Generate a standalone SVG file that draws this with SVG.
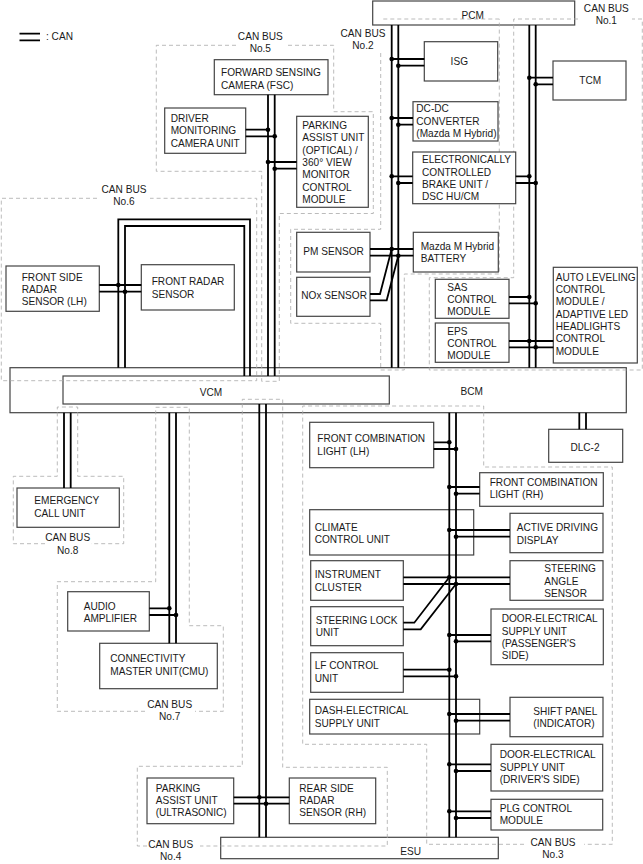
<svg xmlns="http://www.w3.org/2000/svg" width="643" height="864" viewBox="0 0 643 864">
<style>
text{font-family:"Liberation Sans",Arial,sans-serif;font-size:10.1px;fill:#1a1a1a;dominant-baseline:central}
.c{text-anchor:middle}
rect{fill:#fff;stroke:#444;stroke-width:1.2}
.r{fill:none;stroke:#aaa;stroke-width:.8;stroke-dasharray:4 3}
.w{fill:none;stroke:#000;stroke-width:1.8}
circle{fill:#000;stroke:none}
</style>
<rect width="643" height="864" style="fill:#fff;stroke:none"/>
<g id="legend"><path class="w" d="M19.5 33.7H40M19.5 40.3H40"/><text x="46" y="36">: CAN</text></g>
<g id="PCM"><rect x="372.7" y="1" width="202" height="24"/><text class="c" x="472.7" y="15">PCM</text></g>
<g id="BCM"><rect x="10" y="367.7" width="616.3" height="45"/><text class="c" x="471.7" y="391.3">BCM</text></g>
<g id="VCM"><rect x="63" y="376" width="326.3" height="28"/><text class="c" x="211" y="392.3">VCM</text></g>
<g id="ESU"><rect x="220.7" y="837.3" width="277.6" height="21.4"/><text class="c" x="410.7" y="851.7">ESU</text></g>
<g id="bus-regions">
<path class="r" d="M578 19H513.7V277.7H429.3V370H642.3V19H632"/>
<path class="r" d="M499.3 19H380.7M380.7 53V229.3H290.7V323.3H380.7V370H404.3V274H499.3V19"/>
<path class="r" d="M236 45.3H156.3V171.3H261.7V381.3H279.3V213.5H373.3V111.7H333.7V45.3H287"/>
<path class="r" d="M97 198.3H1.3V380.7H256.7V198.3H150"/>
<path class="r" d="M524 844.3H426.7V744.3H302.7V406H483.7V467H612.3V844.3H584"/>
<path class="r" d="M147 846H137.3V766.3H242.3V399.3H282.7V767.3H387.3V846H200"/>
<path class="r" d="M145 711.3H57.3V581.7H155.7V407.3H189.3V625.7H223.3V711.3H195"/>
<path class="r" d="M45 543.7H13.3V476.3H57.3V407H77.7V476.3H123.7V543.7H91"/>
</g>
<g id="ISG"><rect x="424.3" y="41.7" width="73.4" height="39.3"/><text class="c" x="459.3" y="61.3">ISG</text></g>
<g id="TCM"><rect x="553" y="61" width="73" height="39"/><text class="c" x="590.3" y="80.7">TCM</text></g>
<g id="DC-DC"><rect x="413" y="101.7" width="85" height="39.3"/><text x="416.3" y="108.7">DC-DC</text><text x="416.3" y="121">CONVERTER</text><text x="416.3" y="133.3">(Mazda M Hybrid)</text></g>
<g id="BRAKE"><rect x="412.7" y="152" width="103" height="51.7"/><text x="422" y="159.7">ELECTRONICALLY</text><text x="422" y="172">CONTROLLED</text><text x="422" y="184.3">BRAKE UNIT /</text><text x="422" y="196.7">DSC HU/CM</text></g>
<g id="FSC"><rect x="214.3" y="59.7" width="113.7" height="35"/><text x="221" y="72.3">FORWARD SENSING</text><text x="221" y="85">CAMERA (FSC)</text></g>
<g id="DMCU"><rect x="164.7" y="108" width="81" height="45.3"/><text x="170.7" y="118.3">DRIVER</text><text x="170.7" y="130.7">MONITORING</text><text x="170.7" y="143">CAMERA UNIT</text></g>
<g id="PARK-OPT"><rect x="296.7" y="116.3" width="71.6" height="91"/><text x="302.3" y="125.3">PARKING</text><text x="302.3" y="137.6">ASSIST UNIT</text><text x="302.3" y="150">(OPTICAL) /</text><text x="302.3" y="162.3">360° VIEW</text><text x="302.3" y="174.6">MONITOR</text><text x="302.3" y="187">CONTROL</text><text x="302.3" y="199.3">MODULE</text></g>
<g id="FSR-LH"><rect x="6" y="266" width="93.3" height="45.3"/><text x="21.7" y="277">FRONT SIDE</text><text x="21.7" y="289.3">RADAR</text><text x="21.7" y="301.7">SENSOR (LH)</text></g>
<g id="FRS"><rect x="141.3" y="264.7" width="93" height="45.3"/><text x="151.7" y="281.3">FRONT RADAR</text><text x="151.7" y="294">SENSOR</text></g>
<g id="PM"><rect x="296.7" y="232.3" width="73.3" height="39.7"/><text x="303.3" y="251">PM SENSOR</text></g>
<g id="NOX"><rect x="296.7" y="277.3" width="73.3" height="39"/><text x="301.3" y="295">NOx SENSOR</text></g>
<g id="BATTERY"><rect x="413.3" y="232.3" width="85" height="39.7"/><text x="420.7" y="246.3">Mazda M Hybrid</text><text x="420.7" y="258.7">BATTERY</text></g>
<g id="SAS"><rect x="435.3" y="279.3" width="73.7" height="39"/><text x="447.3" y="287">SAS</text><text x="447.3" y="299.3">CONTROL</text><text x="447.3" y="311.7">MODULE</text></g>
<g id="EPS"><rect x="435.3" y="323" width="73.7" height="39.3"/><text x="447.3" y="331">EPS</text><text x="447.3" y="343.3">CONTROL</text><text x="447.3" y="355.7">MODULE</text></g>
<g id="AUTO"><rect x="553.3" y="267.3" width="84" height="95.7"/><text x="555.7" y="277">AUTO LEVELING</text><text x="555.7" y="289.3">CONTROL</text><text x="555.7" y="301.7">MODULE /</text><text x="555.7" y="314">ADAPTIVE LED</text><text x="555.7" y="326.3">HEADLIGHTS</text><text x="555.7" y="338.7">CONTROL</text><text x="555.7" y="351">MODULE</text></g>
<g id="DLC2"><rect x="548.7" y="429.3" width="74" height="33"/><text class="c" x="585" y="447.3">DLC-2</text></g>
<g id="FCL-LH"><rect x="309.7" y="422.3" width="124" height="45.4"/><text x="317.3" y="438.7">FRONT COMBINATION</text><text x="317.3" y="451">LIGHT (LH)</text></g>
<g id="FCL-RH"><rect x="479.7" y="472.7" width="123.6" height="33.6"/><text x="489.7" y="482.3">FRONT COMBINATION</text><text x="489.7" y="494.7">LIGHT (RH)</text></g>
<g id="CLIMATE"><rect x="309.7" y="509.7" width="164" height="45.3"/><text x="314.7" y="527">CLIMATE</text><text x="314.7" y="539.3">CONTROL UNIT</text></g>
<g id="ADD"><rect x="510" y="513.3" width="93" height="39.4"/><text x="516.7" y="527.7">ACTIVE DRIVING</text><text x="516.7" y="540">DISPLAY</text></g>
<g id="CLUSTER"><rect x="310.7" y="560.7" width="92.6" height="39.6"/><text x="314.7" y="574.3">INSTRUMENT</text><text x="314.7" y="587">CLUSTER</text></g>
<g id="ANGLE"><rect x="510" y="560.7" width="93" height="39.6"/><text x="544.3" y="568.7">STEERING</text><text x="544.3" y="581">ANGLE</text><text x="544.3" y="593.3">SENSOR</text></g>
<g id="LOCK"><rect x="310.7" y="606.7" width="92.6" height="39"/><text x="315.7" y="620.3">STEERING LOCK</text><text x="315.7" y="632.7">UNIT</text></g>
<g id="DOOR-P"><rect x="491" y="609" width="112.3" height="55.7"/><text x="501.7" y="618.7">DOOR-ELECTRICAL</text><text x="501.7" y="631">SUPPLY UNIT</text><text x="501.7" y="643.3">(PASSENGER'S</text><text x="501.7" y="655.7">SIDE)</text></g>
<g id="LF"><rect x="310.7" y="652.7" width="92.6" height="39.6"/><text x="314.7" y="665.7">LF CONTROL</text><text x="314.7" y="678">UNIT</text></g>
<g id="DASH"><rect x="309.7" y="699.3" width="170" height="34.7"/><text x="314.7" y="710.7">DASH-ELECTRICAL</text><text x="314.7" y="723">SUPPLY UNIT</text></g>
<g id="SHIFT"><rect x="510" y="697.3" width="93" height="39.4"/><text x="533.3" y="711.3">SHIFT PANEL</text><text x="533.3" y="723.7">(INDICATOR)</text></g>
<g id="DOOR-D"><rect x="491" y="744.3" width="111.7" height="46.7"/><text x="499.7" y="754.7">DOOR-ELECTRICAL</text><text x="499.7" y="767">SUPPLY UNIT</text><text x="499.7" y="779.3">(DRIVER'S SIDE)</text></g>
<g id="PLG"><rect x="491" y="799.3" width="111.7" height="30.7"/><text x="499.7" y="808">PLG CONTROL</text><text x="499.7" y="820.3">MODULE</text></g>
<g id="ECALL"><rect x="17" y="488" width="102.3" height="39.3"/><text x="34.3" y="500.7">EMERGENCY</text><text x="34.3" y="513">CALL UNIT</text></g>
<g id="AUDIO"><rect x="67.7" y="591.7" width="81.6" height="39.3"/><text x="83.7" y="606.3">AUDIO</text><text x="83.7" y="618.7">AMPLIFIER</text></g>
<g id="CMU"><rect x="99.7" y="643.3" width="117.6" height="45.4"/><text x="110.3" y="658.7">CONNECTIVITY</text><text x="110.3" y="671">MASTER UNIT(CMU)</text></g>
<g id="PARK-US"><rect x="147" y="778" width="86.7" height="45.7"/><text x="155.7" y="788">PARKING</text><text x="155.7" y="800.3">ASSIST UNIT</text><text x="155.7" y="812.7">(ULTRASONIC)</text></g>
<g id="REAR"><rect x="289.3" y="778" width="86.4" height="45.7"/><text x="299.3" y="788">REAR SIDE</text><text x="299.3" y="800.3">RADAR</text><text x="299.3" y="812.7">SENSOR (RH)</text></g>
<g id="connectors">
<path class="w" d="M391.7 25V367.7M398.3 25V367.7M529.3 25V367.7M535.7 25V367.7M268 94.7V376M274.7 94.7V376"/>
<path class="w" d="M118.3 367.7V219.3H250V376M125 367.7V226H244.3V376M99.3 285H141.3M99.3 291.7H141.3"/>
<path class="w" d="M245.7 129.7H268M245.7 136.3H274.7M268 162H296.7M274.7 168.7H296.7"/>
<path class="w" d="M391.7 59H424.3M398.3 65.7H424.3M391.7 118H413M398.3 124.7H413M391.7 176.3H412.7M398.3 183H412.7M515.7 176.3H529.3M515.7 183H535.7M529.3 77.7H553M535.7 84.3H553"/>
<path class="w" d="M370 249H413.3M370 255.7H413.3M370 294H380L391.7 249M370 300.3H386.7L398.3 255.7"/>
<path class="w" d="M509 297H529.3M509 303.3H535.7M509 341H553.3M509 347.3H553.3"/>
<path class="w" d="M449.3 412.7V837.3M456 412.7V837.3M579.3 412.7V429.3M586 412.7V429.3"/>
<path class="w" d="M433.7 442.3H449.3M433.7 449H456M449.3 487H479.7M456 493.7H479.7M449.3 530H510M456 536.7H510M403.3 577.3H510M403.3 584H510M403.3 622.7H414.3L449.3 577.3M403.3 629.3H420.7L456 584M449.3 635H491M456 641.3H491M403.3 669.7H449.3M403.3 676.3H456M449.3 714H510M456 720.7H510M449.3 764.3H491M456 771H491M449.3 811.3H491M456 818H491"/>
<path class="w" d="M64 412.7V488M70.7 412.7V488M169.3 412.7V643.3M176 412.7V643.3M149.3 608.3H169.3M149.3 615H176"/>
<path class="w" d="M259.3 404V837.3M266 404V837.3M233.7 797.3H289.3M233.7 803.7H289.3"/>
<g id="junctions">
<circle cx="268" cy="129.7" r="2.3"/><circle cx="274.7" cy="136.3" r="2.3"/><circle cx="268" cy="162" r="2.3"/><circle cx="274.7" cy="168.7" r="2.3"/>
<circle cx="391.7" cy="59" r="2.3"/><circle cx="398.3" cy="65.7" r="2.3"/><circle cx="391.7" cy="118" r="2.3"/><circle cx="398.3" cy="124.7" r="2.3"/><circle cx="391.7" cy="176.3" r="2.3"/><circle cx="398.3" cy="183" r="2.3"/>
<circle cx="529.3" cy="176.3" r="2.3"/><circle cx="535.7" cy="183" r="2.3"/><circle cx="529.3" cy="77.7" r="2.3"/><circle cx="535.7" cy="84.3" r="2.3"/>
<circle cx="118.3" cy="285" r="2.3"/><circle cx="125" cy="291.7" r="2.3"/>
<circle cx="391.7" cy="249" r="2.3"/><circle cx="398.3" cy="255.7" r="2.3"/>
<circle cx="529.3" cy="297" r="2.3"/><circle cx="535.7" cy="303.3" r="2.3"/><circle cx="529.3" cy="341" r="2.3"/><circle cx="535.7" cy="347.3" r="2.3"/>
<circle cx="449.3" cy="442.3" r="2.3"/><circle cx="456" cy="449" r="2.3"/><circle cx="449.3" cy="487" r="2.3"/><circle cx="456" cy="493.7" r="2.3"/><circle cx="449.3" cy="530" r="2.3"/><circle cx="456" cy="536.7" r="2.3"/><circle cx="449.3" cy="577.3" r="2.3"/><circle cx="456" cy="584" r="2.3"/><circle cx="449.3" cy="635" r="2.3"/><circle cx="456" cy="641.3" r="2.3"/><circle cx="449.3" cy="669.7" r="2.3"/><circle cx="456" cy="676.3" r="2.3"/><circle cx="449.3" cy="714" r="2.3"/><circle cx="456" cy="720.7" r="2.3"/><circle cx="449.3" cy="764.3" r="2.3"/><circle cx="456" cy="771" r="2.3"/><circle cx="449.3" cy="811.3" r="2.3"/><circle cx="456" cy="818" r="2.3"/>
<circle cx="169.3" cy="608.3" r="2.3"/><circle cx="176" cy="615" r="2.3"/><circle cx="259.3" cy="797.3" r="2.3"/><circle cx="266" cy="803.7" r="2.3"/>
</g>
</g>
<g id="bus-labels">
<text class="c" x="606.3" y="8.3">CAN BUS</text><text class="c" x="606.3" y="20.3">No.1</text>
<text class="c" x="363" y="33.3">CAN BUS</text><text class="c" x="363" y="45.7">No.2</text>
<text class="c" x="553" y="842">CAN BUS</text><text class="c" x="553" y="854.3">No.3</text>
<text class="c" x="170.7" y="844.3">CAN BUS</text><text class="c" x="170.7" y="856.7">No.4</text>
<text class="c" x="260.3" y="36">CAN BUS</text><text class="c" x="260.3" y="48.3">No.5</text>
<text class="c" x="124" y="189.3">CAN BUS</text><text class="c" x="124" y="201.7">No.6</text>
<text class="c" x="169.7" y="704.3">CAN BUS</text><text class="c" x="169.7" y="716.7">No.7</text>
<text class="c" x="67.7" y="537.7">CAN BUS</text><text class="c" x="67.7" y="550">No.8</text>
</g>
</svg>
